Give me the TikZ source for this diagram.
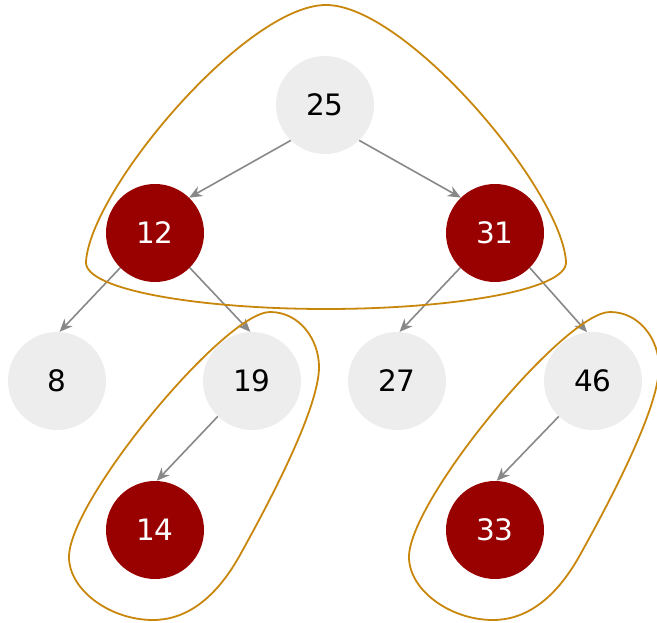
\documentclass[tikz,border=0pt]{standalone}
\usepackage{fontspec}
\setmainfont{DejaVu Sans}
\usetikzlibrary{arrows.meta}
\definecolor{nodegrey}{HTML}{EDEDED}
\definecolor{nodered}{HTML}{990000}
\definecolor{edgegrey}{HTML}{888888}
\definecolor{loopcol}{HTML}{C8860A}
\begin{document}
\begin{tikzpicture}[x=1pt,y=-1pt,
  treenode/.style={circle,minimum size=98pt,inner sep=0pt,font=\fontsize{29.5}{32}\selectfont},
  blacknode/.style={treenode,fill=nodegrey,text=black},
  rednode/.style={treenode,fill=nodered,text=white},
  edge/.style={draw=edgegrey,line width=1.6pt,-{Stealth[length=13pt,width=11pt]}},
  grp/.style={draw=loopcol,line width=1.8pt}]
\useasboundingbox (0,0) rectangle (657,623);
\node[blacknode] (n25) at (325,105) {25};
\node[rednode] (n12) at (155,233) {12};
\node[rednode] (n31) at (495,233) {31};
\node[blacknode] (n8) at (57,381) {8};
\node[blacknode] (n19) at (252,381) {19};
\node[blacknode] (n27) at (397,381) {27};
\node[blacknode] (n46) at (593,381) {46};
\node[rednode] (n14) at (155,530) {14};
\node[rednode] (n33) at (495,530) {33};
\draw[edge] (n25.226) -- (n12.46);
\draw[edge] (n25.314) -- (n31.134);
\draw[edge] (n12.225) -- (n8.87);
\draw[edge] (n12.315) -- (n19.92);
\draw[edge] (n31.225) -- (n27.87);
\draw[edge] (n31.315) -- (n46.97);
\draw[edge] (n19.226) -- (n14.88);
\draw[edge] (n46.226) -- (n33.88);
\draw[grp] (326,5) .. controls (246,5) and (90,190) .. (86,262)
  .. controls (84.5,290) and (200,309) .. (326,309)
  .. controls (452,309) and (567.5,290) .. (566,262)
  .. controls (562,190) and (406,5) .. cycle;
\foreach \dx in {0,340}{
\begin{scope}[xshift=\dx pt]
\draw[grp] (270,312) .. controls (300,312) and (319,340) .. (319,367)
  .. controls (319,410) and (265,510) .. (240,555)
  .. controls (215,600) and (185,620) .. (153,620)
  .. controls (110,620) and (69,590) .. (69,557)
  .. controls (69,500) and (225,312) .. cycle;
\end{scope}}
\end{tikzpicture}
\end{document}
